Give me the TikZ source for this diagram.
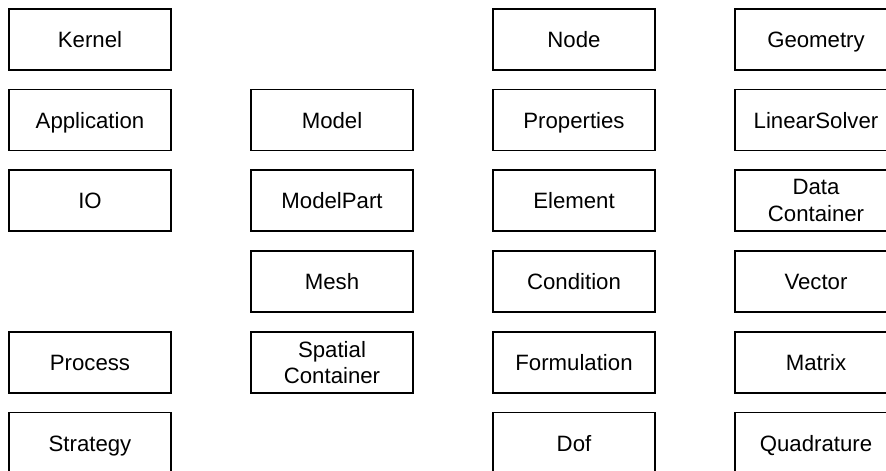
\documentclass[tikz,border=0pt]{standalone}
\usepackage{fontspec}
\setmainfont{Liberation Sans}
\usetikzlibrary{positioning}

\begin{document}
\begin{tikzpicture}[x=1pt, y=1pt,
  box/.style={draw, line width=1.4pt, minimum width=162pt, minimum height=61pt,
    inner sep=0pt, align=center, font=\fontsize{22.2}{26.5}\selectfont},
  block/.style={box, text height=16pt, text depth=0pt}]
  \useasboundingbox (0,0) rectangle (886,-471);

  % First column
  \node[block] (kernel) at (90,-39.5) {Kernel};
  \node[block] (app) at (90,-120) {Application};
  \node[block] (io) at (90,-200.5) {IO};
  \node[block] (process) at (90,-362.5) {Process};
  \node[block] (strategy) at (90,-443) {Strategy};

  % Second column
  \node[block] (model) at (332,-120) {Model};
  \node[block] (modelpart) at (332,-200.5) {ModelPart};
  \node[block] (mesh) at (332,-281.5) {Mesh};
  \node[box] (spatial) at (332,-362.5) {Spatial\\Container};

  % Third column
  \node[block] (node) at (574,-39.5) {Node};
  \node[block] (props) at (574,-120) {Properties};
  \node[block] (element) at (574,-200.5) {Element};
  \node[block] (condition) at (574,-281.5) {Condition};
  \node[block] (formulation) at (574,-362.5) {Formulation};
  \node[block] (dof) at (574,-443) {Dof};

  % Fourth column
  \node[block] (geometry) at (816,-39.5) {Geometry};
  \node[block] (solver) at (816,-120) {LinearSolver};
  \node[box] (data) at (816,-200.5) {Data\\Container};
  \node[block] (vector) at (816,-281.5) {Vector};
  \node[block] (matrix) at (816,-362.5) {Matrix};
  \node[block] (quad) at (816,-443) {Quadrature};
\end{tikzpicture}
\end{document}
